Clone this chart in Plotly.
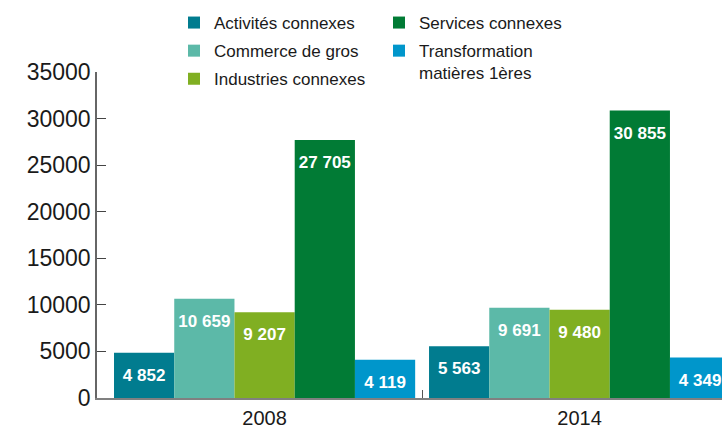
import plotly.graph_objects as go

years = ["2008", "2014"]
series_names = ["Activités connexes", "Commerce de gros", "Industries connexes",
                "Services connexes", "Transformation<br>matières 1ères"]
values = {
    "Activités connexes": [4852, 5563],
    "Commerce de gros": [10659, 9691],
    "Industries connexes": [9207, 9480],
    "Services connexes": [27705, 30855],
    "Transformation<br>matières 1ères": [4119, 4349],
}
colors = ["#017C8F", "#5CB9A8", "#80AF22", "#017B35", "#0096CB"]
legend_ids = ["legend", "legend", "legend", "legend2", "legend2"]
y_ticks = [0, 5000, 10000, 15000, 20000, 25000, 30000, 35000]

def fmt(v):
    return "<span style='font-size:3px'>&nbsp;</span><br>" + f"{v:,}".replace(",", " ")

xpos = list(range(len(years)))
fig = go.Figure()
for i, (name, col, lg) in enumerate(zip(series_names, colors, legend_ids)):
    vals = values[name]
    fig.add_trace(go.Bar(
        x=xpos, y=vals, name=name, marker=dict(color=col, line=dict(width=0)),
        text=[fmt(v) for v in vals], textposition="inside", insidetextanchor="end",
        textfont=dict(family="Liberation Sans, Arial", size=17, color="white", weight="bold"),
        textangle=0, cliponaxis=True, legend=lg, legendgroup=f"g{i}",
    ))

fig.update_layout(
    width=722, height=430,
    margin=dict(l=97, r=0, t=72, b=32, autoexpand=False),
    paper_bgcolor="white", plot_bgcolor="white",
    barmode="group", bargap=0.044, bargroupgap=0,
    font=dict(family="Liberation Sans, Arial", color="#1a1a1a"),
    xaxis=dict(
        type="linear", range=[-0.532, 1.452], tickmode="array", tickvals=xpos, ticktext=years, ticks="",
        showline=True, linecolor="#808080", linewidth=1.5, showgrid=False, zeroline=False,
        tickfont=dict(size=20, color="#1a1a1a"), automargin=False, ticklabelstandoff=1,
        minor=dict(tickmode="array", tickvals=[0.5, 1.5], ticks="inside", ticklen=8,
                   tickcolor="#555", tickwidth=1, showgrid=False),
    ),
    yaxis=dict(
        type="linear", range=[0, 35000], tickmode="array", tickvals=y_ticks,
        ticktext=[str(t) for t in y_ticks], ticks="inside", ticklen=9, tickcolor="#444", tickwidth=1,
        showline=True, linecolor="#666", linewidth=1.5, showgrid=False, zeroline=False,
        tickfont=dict(size=23, color="#1a1a1a"), automargin=False,
    ),
    legend=dict(x=(174 - 97) / 625, y=1 + 67 / 326,
                xanchor="left", yanchor="top", font=dict(size=17, color="#1a1a1a"),
                bgcolor="rgba(0,0,0,0)", tracegroupgap=3, valign="top"),
    legend2=dict(x=(379 - 97) / 625, y=1 + 67 / 326,
                 xanchor="left", yanchor="top", font=dict(size=17, color="#1a1a1a"),
                 bgcolor="rgba(0,0,0,0)", tracegroupgap=3, valign="top"),
    showlegend=True,
)

fig.write_html("out.html", config={"displayModeBar": False},
               post_script="document.body.style.margin='0';document.body.style.overflow='hidden';")
